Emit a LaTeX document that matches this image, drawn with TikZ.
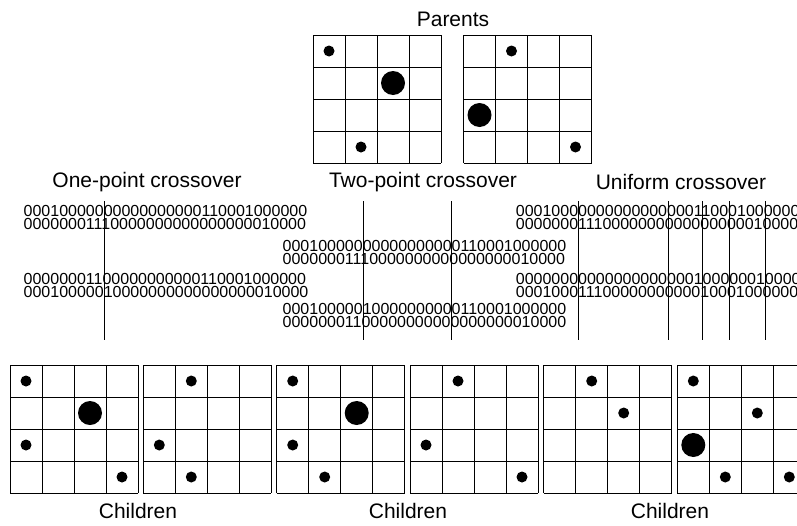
\documentclass[tikz,border=0pt]{standalone}
\usepackage{fontspec}
\setmainfont{Liberation Sans}
\begin{document}
\begin{tikzpicture}[x=1pt,y=-1pt,
  gline/.style={draw=black,line width=0.9pt},
  cut/.style={draw=black,line width=0.9pt},
  title/.style={font=\fontsize{21}{25}\selectfont,inner sep=0pt},
  bits/.style={font=\fontsize{16}{18}\selectfont,inner sep=0pt,anchor=west}]
\useasboundingbox (0,0) rectangle (797,525);
\newcommand\gridat[3]{%
  \begin{scope}[shift={(#1,#2)}]
    \foreach \i in {0,...,4}{%
      \draw[gline] (\i*32,0) -- (\i*32,128);
      \draw[gline] (0,\i*32) -- (128,\i*32);}
    \foreach \c/\r/\s in {#3}{%
      \fill (\c*32+16,\r*32+16) circle[radius=\s pt];}
  \end{scope}}
% parents
\node[title] (parents) at (453,19) {Parents};
\gridat{313}{35}{0/0/5.5, 2/1/12, 1/3/5.5}
\gridat{463.5}{35}{1/0/5.5, 0/2/12, 3/3/5.5}
% titles
\node[title] (t1) at (147,182) {One-point crossover};
\node[title] (t2) at (423,182) {Two-point crossover};
\node[title] (t3) at (681,182) {Uniform crossover};
% one-point
\node[bits] (a1) at (23.5,210.5) {00010000000000000000110001000000};
\node[bits] (a2) at (23.5,223.5) {00000001110000000000000000010000};
\node[bits] (a3) at (23.5,279) {00000001100000000000110001000000};
\node[bits] (a4) at (23.5,292) {00010000010000000000000000010000};
\coordinate (c1t) at (104.3,201); \coordinate (c1b) at (104.3,340);
\draw[cut] (c1t) -- (c1b);
% two-point
\node[bits] (b1) at (282.5,245.5) {00010000000000000000110001000000};
\node[bits] (b2) at (282.5,258.5) {00000001110000000000000000010000};
\node[bits] (b3) at (282.5,308.5) {00010000010000000000110001000000};
\node[bits] (b4) at (282.5,321.5) {00000001100000000000000000010000};
\coordinate (c2t) at (363.3,201); \coordinate (c2b) at (363.3,340);
\coordinate (c3t) at (451,201); \coordinate (c3b) at (451,340);
\draw[cut] (c2t) -- (c2b);
\draw[cut] (c3t) -- (c3b);
% uniform
\node[bits] (u1) at (515.7,210.5) {00010000000000000000110001000000};
\node[bits] (u2) at (515.7,223.5) {00000001110000000000000000010000};
\node[bits] (u3) at (515.7,279) {00000000000000000000100000010000};
\node[bits] (u4) at (515.7,292) {00010001110000000000010001000000};
\foreach \xx [count=\k] in {578.3,668.3,702.7,729.5,765.7}{%
  \coordinate (ut\k) at (\xx,201); \coordinate (ub\k) at (\xx,340);
  \draw[cut] (ut\k) -- (ub\k);}
% children
\gridat{10}{365}{0/0/5.5, 2/1/12, 0/2/5.5, 3/3/5.5}
\gridat{143.3}{365}{1/0/5.5, 0/2/5.5, 1/3/5.5}
\gridat{276.7}{365}{0/0/5.5, 2/1/12, 0/2/5.5, 1/3/5.5}
\gridat{410}{365}{1/0/5.5, 0/2/5.5, 3/3/5.5}
\gridat{543.7}{365}{1/0/5.5, 2/1/5.5}
\gridat{677.3}{365}{0/0/5.5, 2/1/5.5, 0/2/12, 1/3/5.5, 3/3/5.5}
\node[title] (ch1) at (138,511) {Children};
\node[title] (ch2) at (408,511) {Children};
\node[title] (ch3) at (670,511) {Children};
\end{tikzpicture}
\end{document}
